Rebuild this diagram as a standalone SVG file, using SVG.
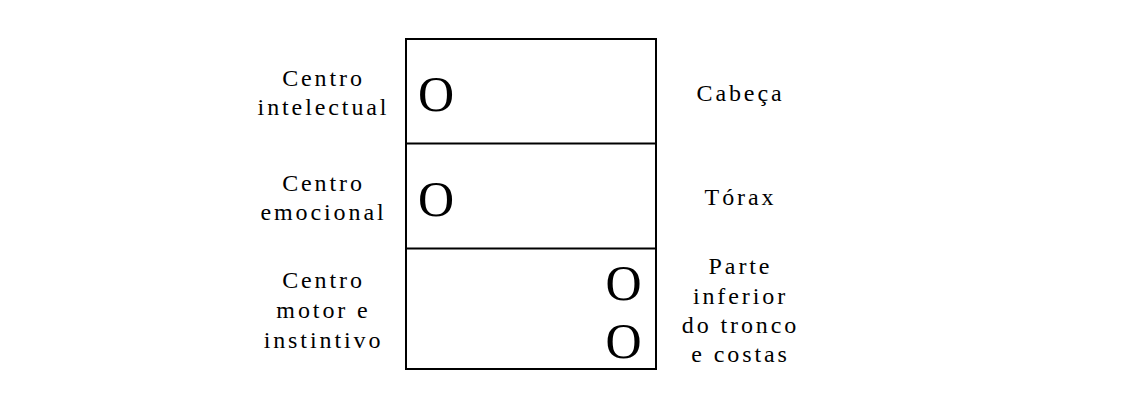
<svg xmlns="http://www.w3.org/2000/svg" width="1122" height="403" viewBox="0 0 1122 403">
<style>
.t{font-family:"Liberation Serif","Times New Roman",serif;font-size:24px;letter-spacing:2.9px;fill:#000;text-anchor:middle}
.o{font-family:"Liberation Serif","Times New Roman",serif;font-size:50px;fill:#000}
.b{fill:none;stroke:#000;stroke-width:2}
</style>
<rect width="1122" height="403" fill="#fff"/>
<g id="frame">
<rect class="b" x="406" y="39" width="250" height="330"/>
<line class="b" x1="406" y1="143.5" x2="656" y2="143.5"/>
<line class="b" x1="406" y1="248.5" x2="656" y2="248.5"/>
</g>
<g id="intelectual">
<text class="t" x="323.5" y="86">Centro</text>
<text class="t" x="323.5" y="115">intelectual</text>
<text class="o" x="418" y="111">O</text>
<text class="t" x="740.5" y="101">Cabeça</text>
</g>
<g id="emocional">
<text class="t" x="323.5" y="191">Centro</text>
<text class="t" x="323.5" y="220">emocional</text>
<text class="o" x="418" y="216">O</text>
<text class="t" x="740.5" y="205">Tórax</text>
</g>
<g id="motor">
<text class="t" x="323.5" y="288">Centro</text>
<text class="t" x="323.5" y="318">motor e</text>
<text class="t" x="323.5" y="348">instintivo</text>
<text class="o" x="641.5" y="300" text-anchor="end">O</text>
<text class="o" x="641.5" y="358" text-anchor="end">O</text>
<text class="t" x="740.5" y="274">Parte</text>
<text class="t" x="740.5" y="304">inferior</text>
<text class="t" x="740.5" y="333">do tronco</text>
<text class="t" x="740.5" y="362">e costas</text>
</g>
</svg>
